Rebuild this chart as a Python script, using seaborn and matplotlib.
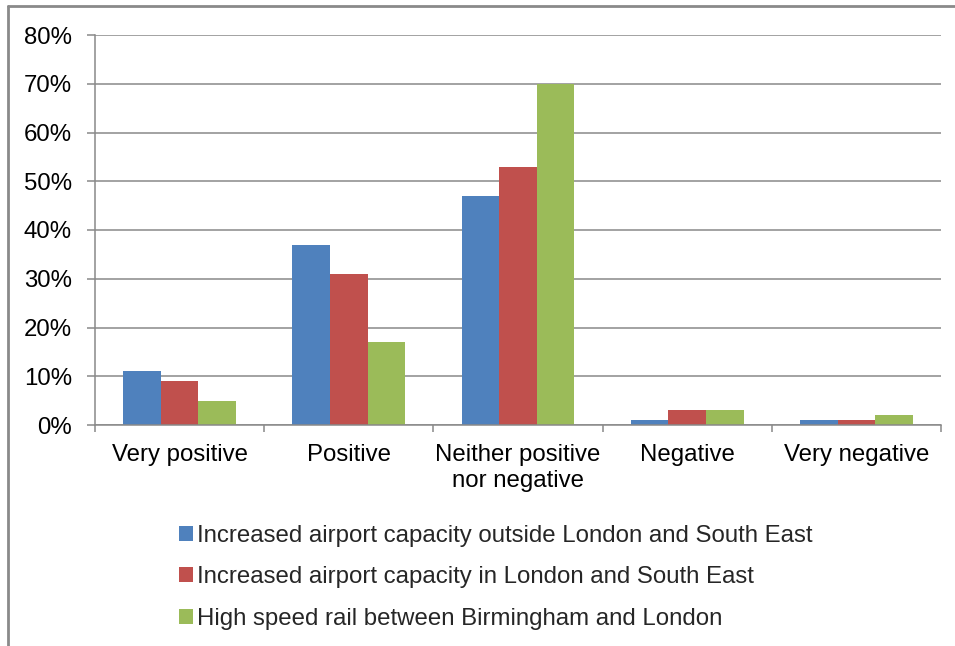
import matplotlib
matplotlib.use("Agg")
import matplotlib.pyplot as plt
from matplotlib.lines import Line2D
from matplotlib.ticker import FixedLocator, PercentFormatter
import seaborn as sns
import pandas as pd

# Survey responses (% of respondents)
categories = ["Very positive", "Positive", "Neither positive\nnor negative",
              "Negative", "Very negative"]
series_names = [
    "Increased airport capacity outside London and South East",
    "Increased airport capacity in London and South East",
    "High speed rail between Birmingham and London",
]
outside_london = [11, 37, 47, 1, 1]
in_london = [9, 31, 53, 3, 1]
high_speed_rail = [5, 17, 70, 3, 2]
y_ticks = [0, 10, 20, 30, 40, 50, 60, 70, 80]

colors = ["#4F81BD", "#C0504D", "#9BBB59"]
grid_gray = "#898989"

rows = []
for name, vals in zip(series_names, [outside_london, in_london, high_speed_rail]):
    for cat, v in zip(categories, vals):
        rows.append({"Response": cat, "Scheme": name, "Share": v})
df = pd.DataFrame(rows)

sns.set_theme(style="white")
plt.rcParams["font.family"] = ["Liberation Sans", "DejaVu Sans"]

fig = plt.figure(figsize=(9.55, 6.46), dpi=100)
fig.patch.set_facecolor("white")
ax = fig.add_axes([95 / 955, 1 - 425 / 646, (941 - 95) / 955, (425 - 35) / 646])

sns.barplot(data=df, x="Response", y="Share", hue="Scheme", order=categories,
            hue_order=series_names, palette=colors, width=0.667, gap=0,
            saturation=1, edgecolor="none", linewidth=0, ax=ax, legend=True)

ax.set_xlim(-0.5, 4.5)
ax.set_ylim(0, 80)
ax.set_yticks(y_ticks)
ax.yaxis.set_major_formatter(PercentFormatter(decimals=0))
ax.set_xlabel("")
ax.set_ylabel("")

ax.set_axisbelow(True)
ax.yaxis.grid(True, color=grid_gray, linewidth=1.1)
ax.xaxis.grid(False)
for side in ["top", "right"]:
    ax.spines[side].set_visible(False)
for side in ["left", "bottom"]:
    ax.spines[side].set_color(grid_gray)
    ax.spines[side].set_linewidth(1.1)

ax.tick_params(axis="y", which="major", direction="out", length=6,
               width=1.1, color=grid_gray, labelsize=17.3, pad=10.5,
               labelcolor="black", left=True)
ax.tick_params(axis="x", which="major", length=0, labelsize=17.3, pad=13.5,
               labelcolor="black")
ax.xaxis.set_minor_locator(FixedLocator([-0.5, 0.5, 1.5, 2.5, 3.5, 4.5]))
ax.tick_params(axis="x", which="minor", direction="out", length=5,
               width=1.1, color=grid_gray, bottom=True)
for lbl in ax.get_xticklabels():
    lbl.set_linespacing(1.25)

handles, labels = ax.get_legend_handles_labels()
ax.get_legend().remove()
fig.legend(handles, labels, loc="upper left",
           bbox_to_anchor=(169 / 955, 1 - 515 / 646), frameon=False,
           fontsize=17.3, handlelength=0.6, handleheight=0.6,
           handletextpad=0.15, labelspacing=0.82, borderaxespad=0)

# Frame lines along the top and left edges
fig.add_artist(Line2D([8 / 955, 8 / 955], [0, 1 - 6 / 646],
                      transform=fig.transFigure, color="#8A8A8A", linewidth=2))
fig.add_artist(Line2D([8 / 955, 1], [1 - 6 / 646, 1 - 6 / 646],
                      transform=fig.transFigure, color="#8A8A8A", linewidth=2))

fig.savefig("out.png", dpi=100, facecolor="white")
